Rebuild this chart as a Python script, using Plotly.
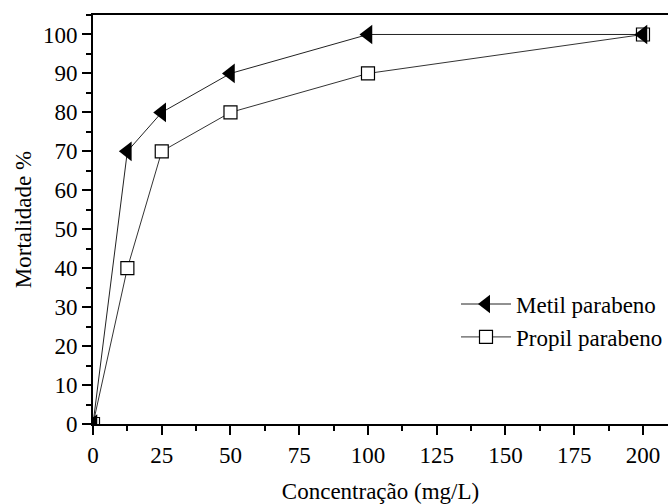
import plotly.graph_objects as go

conc = [0, 12.5, 25, 50, 100, 200]
metil = [0, 70, 80, 90, 100, 100]
propil = [0, 40, 70, 80, 90, 100]
xticks = [0, 25, 50, 75, 100, 125, 150, 175, 200]
yticks = list(range(0, 101, 10))

font = dict(family="Liberation Serif", size=23, color="black")

fig = go.Figure()
fig.add_trace(go.Scatter(
    x=conc, y=propil, name="Propil parabeno", mode="lines+markers",
    line=dict(color="#333333", width=1),
    marker=dict(symbol="square", size=13, color="white", line=dict(color="black", width=1.2)),
    legendrank=2,
))
fig.add_trace(go.Scatter(
    x=conc, y=metil, name="Metil parabeno", mode="lines+markers",
    line=dict(color="#222222", width=1),
    marker=dict(symbol="triangle-left", size=17, color="black", line=dict(color="black", width=0)),
    legendrank=1,
))

fig.update_layout(
    width=668, height=504,
    margin=dict(l=93, r=0, t=15, b=78),
    paper_bgcolor="white", plot_bgcolor="white",
    font=font,
    showlegend=True,
    legend=dict(x=1.0, xanchor="right", y=0.16, yanchor="bottom",
                bgcolor="rgba(0,0,0,0)", font=font, tracegroupgap=0,
                itemwidth=50),
)
fig.update_xaxes(
    range=[0, 209.1], tickvals=xticks, ticktext=[str(t) for t in xticks],
    showgrid=False, zeroline=False, showline=True, linecolor="black", linewidth=2,
    mirror=True, ticks="outside", ticklen=9, tickwidth=2, tickcolor="black",
    minor=dict(dtick=12.5, tick0=0, ticks="outside", ticklen=5, tickwidth=2, tickcolor="black"),
    title=dict(text="Concentração (mg/L)", font=font, standoff=20),
    tickfont=font,
)
fig.update_yaxes(
    range=[0, 105], tickvals=yticks, ticktext=[str(t) for t in yticks],
    showgrid=False, zeroline=False, showline=True, linecolor="black", linewidth=2,
    ticks="outside", ticklen=9, tickwidth=2, tickcolor="black",
    minor=dict(dtick=5, tick0=0, ticks="outside", ticklen=5, tickwidth=2, tickcolor="black"),
    title=dict(text="Mortalidade %", font=font, standoff=5),
    tickfont=font,
)

fig.write_html("out.html")
